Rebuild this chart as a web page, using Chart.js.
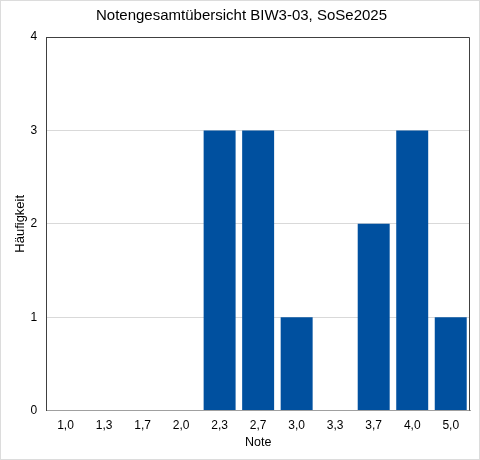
<!DOCTYPE html>
<html>
<head>
<meta charset="utf-8">
<script src="https://cdn.jsdelivr.net/npm/chart.js@4"></script>
<style>
  html, body { margin: 0; padding: 0; background: #fff; }
  #wrap { width: 480px; height: 460px; box-sizing: border-box; border: 1px solid #dcdcdc; position: relative; }
  canvas { display: block; }
</style>
</head>
<body>
<div id="wrap"><canvas id="gradeChart" width="478" height="458"></canvas></div>
<script>
// Notenverteilung
const grades = ['1,0', '1,3', '1,7', '2,0', '2,3', '2,7', '3,0', '3,3', '3,7', '4,0', '5,0'];
const counts = [0, 0, 0, 0, 3, 3, 1, 0, 2, 3, 1];
const yTicks = [0, 1, 2, 3, 4];

const FONT = "'Liberation Sans', Arial, sans-serif";

// frame around the plot area (top + right side)
const plotFrame = {
  id: 'plotFrame',
  afterDraw(chart) {
    const { ctx, chartArea: a } = chart;
    ctx.save();
    ctx.strokeStyle = '#404040';
    ctx.lineWidth = 1;
    ctx.beginPath();
    ctx.moveTo(a.left + 0.5, a.top + 0.5);
    ctx.lineTo(a.right - 0.5, a.top + 0.5);
    ctx.lineTo(a.right - 0.5, a.bottom);
    ctx.stroke();
    ctx.restore();
  }
};

new Chart(document.getElementById('gradeChart'), {
  type: 'bar',
  data: {
    labels: grades,
    datasets: [{
      label: 'Häufigkeit',
      data: counts,
      backgroundColor: '#00509f',
      borderColor: '#00509f',
      borderWidth: 0,
      barPercentage: 0.83,
      categoryPercentage: 1.0
    }]
  },
  options: {
    responsive: false,
    animation: false,
    devicePixelRatio: 1,
    layout: { padding: { left: 12, right: 9, top: 4, bottom: 9 } },
    plugins: {
      legend: { display: false },
      tooltip: { enabled: false },
      title: {
        display: true,
        text: 'Notengesamtübersicht BIW3-03, SoSe2025',
        color: '#000',
        font: { family: FONT, size: 15, weight: 'normal' },
        padding: { top: 2, bottom: 12 }
      }
    },
    scales: {
      x: {
        grid: { display: false, drawTicks: false },
        border: { display: true, color: '#a0a0a0', width: 1 },
        ticks: { color: '#000', font: { family: FONT, size: 12 }, padding: 8, maxRotation: 0 },
        title: { display: true, text: 'Note', color: '#000', font: { family: FONT, size: 12.5 }, padding: { top: -6, bottom: 0 } }
      },
      y: {
        min: 0,
        max: 4,
        afterBuildTicks(scale) { scale.ticks = yTicks.map(v => ({ value: v })); },
        grid: { color: '#d9d9d9', drawTicks: false },
        border: { display: true, color: '#404040', width: 1 },
        ticks: { color: '#000', font: { family: FONT, size: 12 }, padding: 9 },
        title: { display: true, text: 'Häufigkeit', color: '#000', font: { family: FONT, size: 13 }, padding: { top: 0, bottom: -7 } }
      }
    }
  },
  plugins: [plotFrame]
});
</script>
</body>
</html>
